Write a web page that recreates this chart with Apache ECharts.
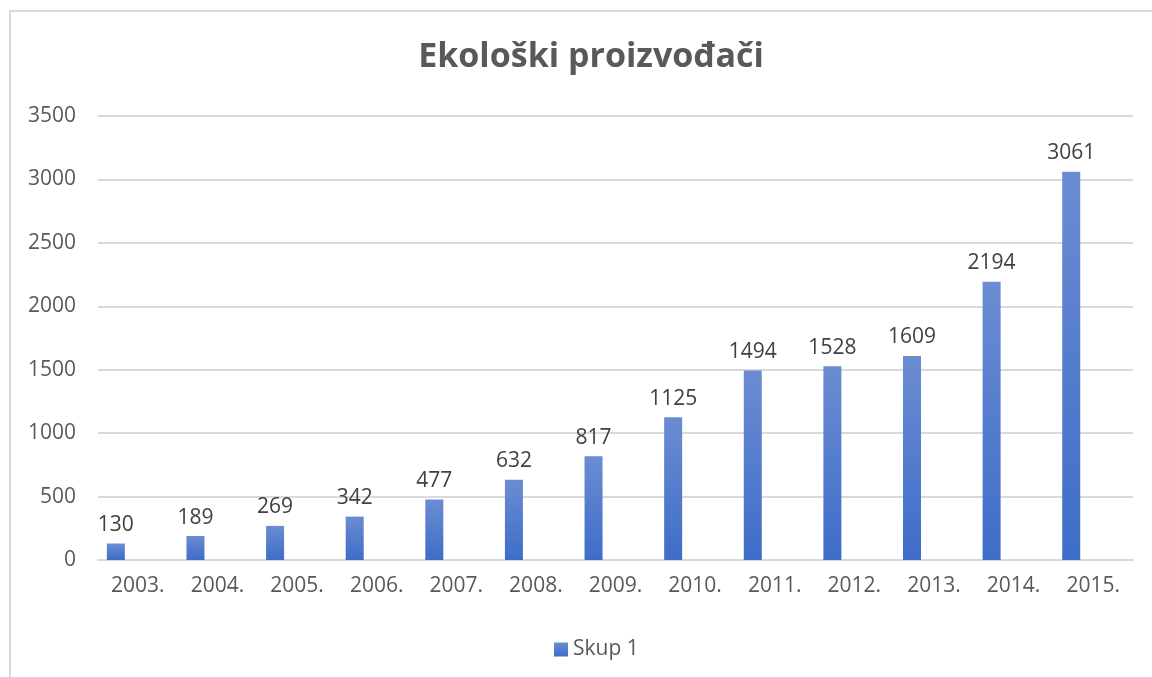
<!DOCTYPE html>
<html>
<head>
<meta charset="utf-8">
<script src="https://cdn.jsdelivr.net/npm/echarts@6/dist/echarts.min.js"></script>
<style>html,body{margin:0;padding:0;background:#fff}#c{width:1152px;height:677px}</style>
</head>
<body>
<div id="c"></div>
<script>
var categories = ['2003.','2004.','2005.','2006.','2007.','2008.','2009.','2010.','2011.','2012.','2013.','2014.','2015.'];
var skup1 = [130,189,269,342,477,632,817,1125,1494,1528,1609,2194,3061];
var skup2 = ['-','-','-','-','-','-','-','-','-','-','-','-','-'];
var skup3 = ['-','-','-','-','-','-','-','-','-','-','-','-','-'];
var yTicks = {min:0, max:3500, interval:500};

var chart = echarts.init(document.getElementById('c'));
var font = '"Open Sans", "Noto Sans", sans-serif';
chart.setOption({
  animation:false,
  textStyle:{fontFamily:font},
  graphic:[{type:'rect', shape:{x:10,y:11,width:1200,height:720}, style:{fill:'none', stroke:'#d9d9d9', lineWidth:2}, silent:true}],
  title:{text:'Ekološki proizvođači', left:586, textAlign:'center', top:35,
    textStyle:{fontFamily:font, fontSize:34, fontWeight:'bold', color:'#595959'}},
  legend:{data:['Skup 1'], top:634, left:549, itemWidth:14, itemHeight:14, itemGap:5,
    textStyle:{fontFamily:font, fontSize:21, color:'#595959'}, icon:'rect'},
  grid:{left:98, right:19, top:116, bottom:117},
  xAxis:{type:'category', data:categories,
    axisLine:{show:true, lineStyle:{color:'#d9d9d9', width:2}},
    axisTick:{show:false},
    axisLabel:{fontFamily:font, fontSize:21, color:'#595959', margin:16}},
  yAxis:{type:'value', min:yTicks.min, max:yTicks.max, interval:yTicks.interval,
    axisLine:{show:false}, axisTick:{show:false},
    splitLine:{lineStyle:{color:'#d9d9d9', width:2}},
    axisLabel:{fontFamily:font, fontSize:21, color:'#595959', margin:22, formatter:function(v){return String(v);}}},
  series:[
    {name:'Skup 1', type:'bar', data:skup1, barWidth:18, barGap:'22%',
      itemStyle:{color:new echarts.graphic.LinearGradient(0,0,0,1,[{offset:0,color:'#6b8cd2'},{offset:1,color:'#3e6dc8'}])},
      label:{show:true, position:'top', distance:8, fontFamily:font, fontSize:21, color:'#404040'}},
    {name:'Skup 2', type:'bar', data:skup2, barWidth:18, barGap:'22%'},
    {name:'Skup 3', type:'bar', data:skup3, barWidth:18, barGap:'22%'}
  ]
});
</script>
</body>
</html>
